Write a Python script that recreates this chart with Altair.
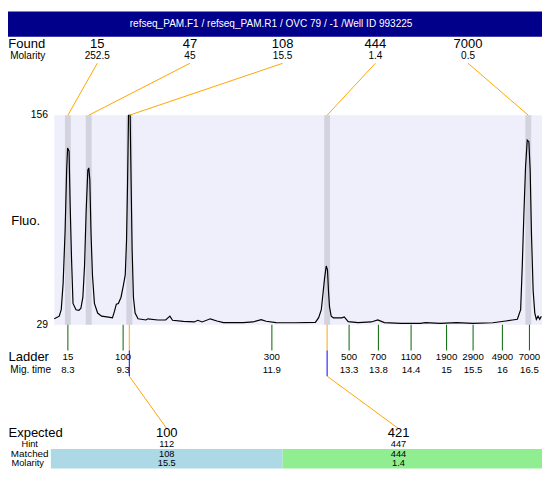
import altair as alt
import numpy as np
import pandas as pd

# ---------------- data ----------------
title_text = "refseq_PAM.F1 / refseq_PAM.R1 / OVC 79 / -1 /Well ID 993225"

found_size = [15, 47, 108, 444, 7000]
found_molarity = [252.5, 45, 15.5, 1.4, 0.5]
found_time = [8.30, 8.67, 9.39, 12.90, 16.47]

ladder_size = [15, 100, 300, 500, 700, 1100, 1900, 2900, 4900, 7000]
ladder_time = [8.30, 9.28, 11.92, 13.29, 13.81, 14.39, 15.02, 15.49, 16.01, 16.49]

fluo_ticks = [29, 156]

expected_size = [100, 421]
expected_hint = [112, 447]
matched_size = [108, 444]
matched_molarity = [15.5, 1.4]
matched_time = [9.39, 12.90]

trace_time = [8.059, 8.147, 8.182, 8.216, 8.251, 8.278, 8.295, 8.321, 8.339, 8.365,
              8.391, 8.444, 8.496, 8.531, 8.566, 8.596, 8.624, 8.654, 8.671, 8.689,
              8.711, 8.736, 8.771, 8.828, 8.898, 9.021, 9.091, 9.126, 9.160, 9.196,
              9.243, 9.283, 9.318, 9.341, 9.358, 9.376, 9.405, 9.423, 9.440, 9.463,
              9.493, 9.545, 9.685, 9.720, 9.895, 10.035, 10.110, 10.157, 10.349, 10.542,
              10.606, 10.682, 10.827, 10.944, 11.061, 11.411, 11.585, 11.730, 11.818, 11.993,
              12.342, 12.692, 12.750, 12.797, 12.832, 12.855, 12.884, 12.907, 12.924, 12.942,
              12.972, 13.012, 13.159, 13.204, 13.274, 13.449, 13.683, 13.799, 13.916, 14.208,
              14.557, 14.645, 14.907, 15.197, 15.489, 15.839, 16.071, 16.189, 16.276, 16.334,
              16.363, 16.393, 16.421, 16.451, 16.480, 16.503, 16.526, 16.556, 16.585, 16.613,
              16.643, 16.673, 16.701]
trace_fluo = [32.6, 34.2, 38.1, 54.4, 86.2, 122.7, 136.2, 134.2, 103.5, 68.8,
              41.9, 38.1, 37.7, 39.0, 45.7, 65.0, 97.7, 122.7, 124.1, 116.9,
              84.2, 59.2, 41.9, 36.1, 34.2, 33.6, 33.2, 37.1, 41.5, 41.9,
              45.7, 52.5, 59.2, 80.4, 113.1, 156.0, 156.0, 113.3, 74.6, 45.7,
              36.1, 32.6, 31.9, 32.6, 31.9, 31.9, 34.2, 31.7, 31.0, 30.7,
              31.7, 30.7, 32.6, 31.3, 30.3, 30.3, 30.7, 32.1, 31.1, 30.3,
              30.2, 30.4, 33.3, 38.1, 49.6, 57.3, 64.6, 62.1, 49.6, 40.0,
              34.2, 33.2, 33.2, 33.8, 30.9, 30.3, 30.7, 31.9, 30.3, 29.8,
              29.8, 30.3, 29.8, 30.3, 29.8, 30.2, 31.3, 31.9, 32.3, 38.1,
              65.0, 97.7, 124.7, 141.0, 140.0, 122.7, 84.2, 49.6, 36.1, 32.3,
              34.2, 32.3, 34.2]

# ---------------- layout / style ----------------
W, H = 550, 464          # chart drawn 1:1 horizontally (left page margin hidden), squeezed vertically
SY = H / 480
PAD = {"left": -8, "top": 0, "right": 0, "bottom": 0}


def py(v):
    return round(v * SY, 2)


def ref_to_time(xr):
    # horizontal calibration of the migration-time axis (layout)
    return 13.4 + (xr - 360.5) / 57.2


X_DOMAIN = [ref_to_time(0), ref_to_time(550)]
XS = alt.Scale(domain=X_DOMAIN, nice=False, zero=False)
YS = alt.Scale(domain=[29, 156], range=[py(329), py(109)], nice=False, zero=False)

FONT = "Liberation Sans, Arial, sans-serif"
BIG = 13.2
MID = 10.2
SMALL = 9.8
TINY = 9.4
NAVY = "#00008B"
PLOT_BG = "#EFEFFB"
BAND = "#D3D3E0"
ORANGE = "#FFA500"
GREEN = "#006400"
BLUE = "#0000FF"
MATCH_COLORS = ["#ADD8E6", "#90EE90"]


def slots(n):
    edges = np.linspace(ref_to_time(51.5), ref_to_time(522), n + 1)
    return list((edges[:-1] + edges[1:]) / 2), list(edges)


found_slots, _ = slots(len(found_size))
exp_slots, exp_edges = slots(len(expected_size))
exp_right = exp_edges[1:]
exp_right[-1] = X_DOMAIN[1]

found_df = pd.DataFrame({"size": found_size, "mol": found_molarity,
                         "peak": found_time, "slot": found_slots})
ladder_df = pd.DataFrame({"size": ladder_size, "t": ladder_time})
exp_df = pd.DataFrame({"exp": expected_size, "hint": expected_hint,
                       "matched": matched_size, "mol": matched_molarity,
                       "peak": matched_time, "slot": exp_slots,
                       "left": exp_edges[:-1], "right": exp_right})
trace_df = pd.DataFrame({"t": trace_time, "fluo": trace_fluo})
fluo_df = pd.DataFrame({"v": fluo_ticks})
ONE = pd.DataFrame({"k": [0]})


def label(text, x, y, size, color="black"):
    return alt.Chart(ONE).mark_text(text=text, fontSize=size, font=FONT, color=color,
                                    align="center", baseline="middle").encode(
        x=alt.value(x), y=alt.value(py(y)))


def xq(field):
    return alt.X(field, type="quantitative", scale=XS, axis=None)


def texts(df, xfield, field, y, size, fmt=None):
    t = alt.Text(field, type="quantitative", format=fmt) if fmt else alt.Text(field, type="quantitative")
    return alt.Chart(df).mark_text(fontSize=size, font=FONT, baseline="middle").encode(
        x=xq(xfield), y=alt.value(py(y)), text=t)


layers = []

# title bar
layers.append(alt.Chart(ONE).mark_rect(color=NAVY).encode(
    x=alt.value(0), x2=alt.value(W), y=alt.value(0), y2=alt.value(py(26.5))))
layers.append(label(title_text, 275, 13.5, 10.2, color="white"))

# plot background
layers.append(alt.Chart(ONE).mark_rect(color=PLOT_BG).encode(
    x=alt.XDatum(trace_time[0], scale=XS, axis=None), x2=alt.X2Datum(X_DOMAIN[1]),
    y=alt.YDatum(156, scale=YS, axis=None), y2=alt.Y2Datum(29)))

# peak bands
layers.append(alt.Chart(found_df).mark_rule(color=BAND, strokeWidth=6).encode(
    x=xq("peak"), y=alt.YDatum(156, scale=YS, axis=None), y2=alt.Y2Datum(29)))

# electropherogram trace
layers.append(alt.Chart(trace_df).mark_line(color="black", strokeWidth=1.2).encode(
    x=xq("t"), y=alt.Y("fluo:Q", scale=YS, axis=None)))

# fluorescence axis labels
layers.append(alt.Chart(fluo_df).mark_text(fontSize=10.5, font=FONT, align="right",
                                           baseline="middle").encode(
    x=alt.value(48.5), y=alt.Y("v:Q", scale=YS, axis=None), text="v:Q"))

# ladder ticks and labels
layers.append(alt.Chart(ladder_df).mark_rule(color=GREEN, strokeWidth=1).encode(
    x=xq("t"), y=alt.value(py(329)), y2=alt.value(py(356))))
layers.append(texts(ladder_df, "t", "size", 363, SMALL))
layers.append(texts(ladder_df, "t", "t", 377, SMALL, ".1~f"))

# found labels and connectors
layers.append(texts(found_df, "slot", "size", 34, BIG))
layers.append(texts(found_df, "slot", "mol", 46.5, MID))
layers.append(alt.Chart(found_df).mark_rule(color=ORANGE, strokeWidth=1).encode(
    x=xq("slot"), x2="peak:Q", y=alt.value(py(54.5)), y2=alt.value(py(109))))

# matched rows
layers.append(alt.Chart(exp_df).mark_rect().encode(
    x=xq("left"), x2="right:Q", y=alt.value(py(459.5)), y2=alt.value(H),
    color=alt.Color("exp:N", scale=alt.Scale(domain=expected_size, range=MATCH_COLORS),
                    legend=None)))
layers.append(alt.Chart(exp_df).mark_rule(color=ORANGE, strokeWidth=1).encode(
    x=xq("peak"), y=alt.value(py(329)), y2=alt.value(py(356))))
layers.append(alt.Chart(exp_df).mark_rule(color=BLUE, strokeWidth=1).encode(
    x=xq("peak"), y=alt.value(py(356)), y2=alt.value(py(383))))
layers.append(alt.Chart(exp_df).mark_rule(color=ORANGE, strokeWidth=1).encode(
    x=xq("peak"), x2="slot:Q", y=alt.value(py(383)), y2=alt.value(py(438))))
layers.append(texts(exp_df, "slot", "exp", 443, BIG))
layers.append(texts(exp_df, "slot", "hint", 454, TINY))
layers.append(texts(exp_df, "slot", "matched", 465, TINY))
layers.append(texts(exp_df, "slot", "mol", 474.5, TINY))

# row labels
layers += [
    label("Found", 27, 34, BIG),
    label("Molarity", 28, 46.5, MID),
    label("Fluo.", 26, 220, BIG),
    label("Ladder", 29, 363, BIG),
    label("Mig. time", 31, 377, 10.2),
    label("Expected", 36, 443, BIG),
    label("Hint", 30, 454, TINY),
    label("Matched", 30, 465, 10),
    label("Molarity", 28, 474.5, TINY),
]

chart = alt.layer(*layers).properties(
    width=W, height=H,
    autosize=alt.AutoSizeParams(type="none"),
    padding=PAD,
    background="white",
).configure_view(stroke=None)

chart.save("out.html", embed_options={"renderer": "svg", "actions": False})
